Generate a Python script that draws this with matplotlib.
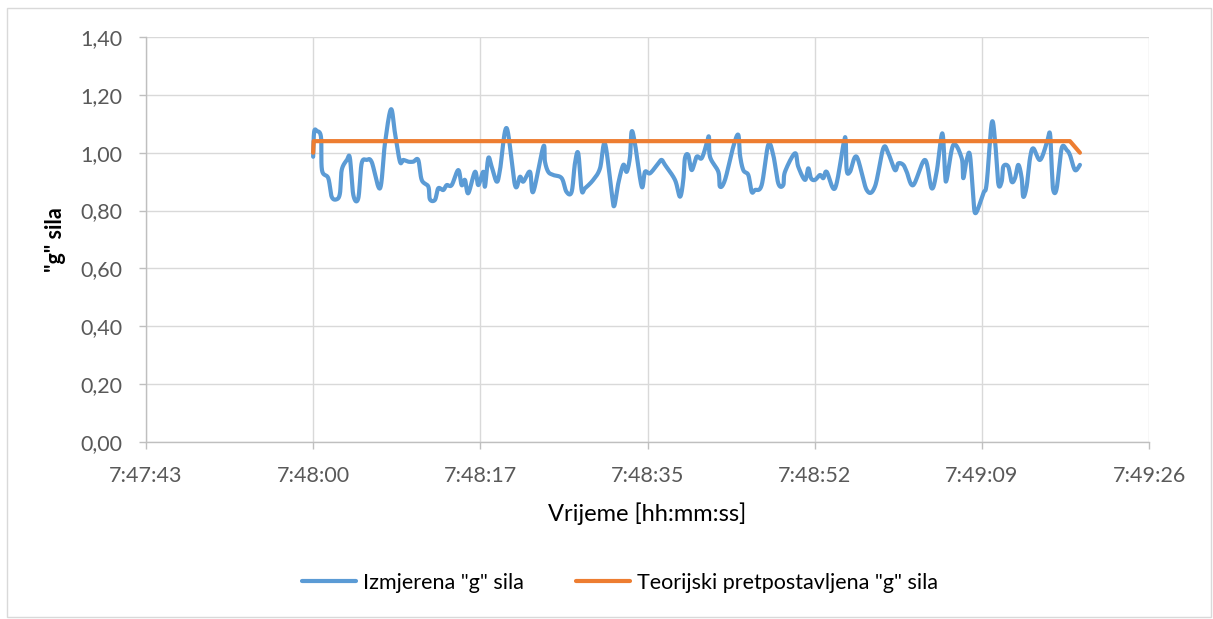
import numpy as np
import matplotlib
matplotlib.use("Agg")
import matplotlib.pyplot as plt
from matplotlib.ticker import FuncFormatter, FixedLocator
from matplotlib.patches import Rectangle

plt.rcParams['font.family'] = ['Lato', 'DejaVu Sans']

# Measurement start 7:48:00, stored as seconds after midnight
START = 7 * 3600 + 48 * 60

# Measured g-force: seconds after the start and value
measured_t = [0.00, 0.10, 0.39, 0.81, 0.91, 1.56, 1.91, 2.43, 2.77, 2.95,
              3.49, 3.80, 4.15, 4.66, 5.01, 5.53, 6.05, 6.91, 7.42, 8.04,
              8.46, 8.97, 9.31, 9.83, 10.35, 10.86, 11.22, 11.90, 12.07, 12.59,
              12.93, 13.45, 13.80, 14.32, 15.00, 15.35, 15.69, 16.03, 16.73, 17.07,
              17.58, 17.76, 18.10, 18.45, 18.97, 19.31, 20.00, 20.86, 21.38, 21.72,
              22.41, 22.75, 23.79, 23.96, 24.30, 24.82, 25.69, 26.18, 26.72, 27.06,
              27.40, 27.75, 28.10, 28.95, 29.65, 30.16, 30.86, 31.12, 31.54, 32.06,
              32.41, 32.75, 32.92, 33.26, 33.96, 34.30, 34.82, 35.67, 36.02, 36.37,
              37.40, 37.92, 38.26, 38.43, 38.77, 39.13, 39.64, 40.16, 40.68, 40.91,
              41.02, 41.88, 42.05, 42.57, 43.43, 43.94, 44.12, 44.46, 44.98, 45.33,
              45.67, 46.36, 47.04, 47.56, 48.08, 48.59, 48.77, 49.80, 50.14, 50.84,
              51.18, 51.46, 51.87, 52.39, 52.73, 53.08, 53.94, 54.80, 55.04, 55.15,
              55.49, 56.18, 57.22, 58.07, 58.93, 59.45, 60.14, 60.48, 61.00, 61.35,
              62.03, 63.24, 63.93, 64.45, 65.03, 65.31, 65.48, 66.17, 67.04, 67.20,
              67.55, 67.89, 68.23, 68.48, 69.27, 69.62, 70.14, 70.48, 70.82, 71.17,
              71.34, 71.85, 72.20, 72.55, 72.89, 73.24, 73.40, 73.75, 74.10, 74.44,
              75.13, 75.82, 76.16, 76.34, 76.50, 76.86, 77.37, 77.89, 78.23, 78.75,
              79.26]
measured_g = [0.986, 1.072, 1.075, 1.054, 0.940, 0.912, 0.848, 0.839, 0.860, 0.940,
              0.975, 0.981, 0.854, 0.842, 0.963, 0.975, 0.968, 0.877, 1.032, 1.150,
              1.067, 0.969, 0.975, 0.969, 0.969, 0.975, 0.906, 0.883, 0.839, 0.837,
              0.877, 0.871, 0.888, 0.888, 0.940, 0.888, 0.906, 0.860, 0.934, 0.888,
              0.934, 0.883, 0.981, 0.952, 0.900, 0.940, 1.085, 0.888, 0.917, 0.900,
              0.934, 0.865, 1.021, 0.969, 0.934, 0.923, 0.912, 0.865, 0.865, 0.963,
              0.998, 0.871, 0.877, 0.906, 0.946, 1.032, 0.860, 0.816, 0.894, 0.958,
              0.934, 0.986, 1.073, 1.032, 0.883, 0.934, 0.929, 0.963, 0.975, 0.958,
              0.906, 0.848, 0.906, 0.981, 0.992, 0.940, 0.986, 0.981, 1.032, 1.055,
              0.986, 0.934, 0.883, 0.906, 1.021, 1.062, 0.992, 0.940, 0.923, 0.865,
              0.871, 0.888, 1.027, 0.992, 0.894, 0.888, 0.934, 0.998, 0.952, 0.906,
              0.946, 0.912, 0.906, 0.923, 0.912, 0.934, 0.877, 1.027, 1.046, 0.940,
              0.934, 0.986, 0.871, 0.883, 1.015, 0.998, 0.940, 0.963, 0.958, 0.934,
              0.888, 0.975, 0.877, 0.934, 1.067, 0.934, 0.906, 1.027, 0.981, 0.912,
              0.975, 0.992, 0.848, 0.791, 0.860, 0.894, 1.102, 1.044, 0.894, 0.900,
              0.952, 0.952, 0.900, 0.912, 0.958, 0.912, 0.848, 0.883, 0.981, 1.015,
              0.975, 1.032, 1.067, 0.952, 0.871, 0.877, 1.015, 1.009, 0.992, 0.940,
              0.958]

# Theoretical g-force
theory_t = [0.00, 0.05, 78.23, 79.26]
theory_g = [1.00, 1.04, 1.04, 1.00]

y_ticks = [0.0, 0.2, 0.4, 0.6, 0.8, 1.0, 1.2, 1.4]
# Excel-style time axis: 0.3248 .. 0.3260 days in steps of 0.0002 days
x_tick_days = [0.3248, 0.3250, 0.3252, 0.3254, 0.3256, 0.3258, 0.3260]

BLUE = '#5B9BD5'
ORANGE = '#ED7D31'


def smooth(x, y, n=24):
    """Catmull-Rom style smoothing (cubic Bezier between consecutive points)."""
    x = np.asarray(x, float)
    y = np.asarray(y, float)
    P = np.column_stack([x, y])
    m = len(P)
    out = [P[0]]
    s = np.linspace(0, 1, n)[1:, None]
    for i in range(m - 1):
        p0 = P[i - 1] if i > 0 else P[i]
        p1 = P[i]
        p2 = P[i + 1]
        p3 = P[i + 2] if i + 2 < m else P[i + 1]
        c1 = p1 + (p2 - p0) / 6.0
        c2 = p2 - (p3 - p1) / 6.0
        seg = ((1 - s) ** 3) * p1 + 3 * ((1 - s) ** 2) * s * c1 \
            + 3 * (1 - s) * s ** 2 * c2 + s ** 3 * p2
        out.extend(seg)
    out = np.array(out)
    return out[:, 0], out[:, 1]


def hms(v, pos=None):
    s = int(round(v))
    return f"{s // 3600}:{(s % 3600) // 60:02d}:{s % 60:02d}"


fig = plt.figure(figsize=(12.13, 6.19), dpi=100)
W, H = 1213, 619
ax = fig.add_axes([146 / W, 1 - 442 / H, (1149 - 146) / W, (442 - 37) / H])

# chart border
fig.patches.append(Rectangle((7 / W, 1 - 617 / H), (1211 - 7) / W, (617 - 8) / H,
                             transform=fig.transFigure, fill=False,
                             edgecolor='#d9d9d9', lw=1.0, zorder=0))

mx = np.array(measured_t) + START
tx = np.array(theory_t) + START
sx, sy = smooth(mx, measured_g)
ax.plot(sx, sy, color=BLUE, lw=3.0, solid_capstyle='round', solid_joinstyle='round',
        label='Izmjerena "g" sila', zorder=3)
ax.plot(tx, theory_g, color=ORANGE, lw=3.0, solid_capstyle='round',
        label='Teorijski pretpostavljena "g" sila', zorder=4)

xt = [d * 86400 for d in x_tick_days]
ax.set_xlim(xt[0], xt[-1])
ax.set_ylim(0, 1.4)
ax.xaxis.set_major_locator(FixedLocator(xt))
ax.xaxis.set_major_formatter(FuncFormatter(hms))
ax.set_yticks(y_ticks)
ax.yaxis.set_major_formatter(FuncFormatter(lambda v, p: f"{v:.2f}".replace('.', ',')))

ax.grid(True, color='#d9d9d9', lw=1.0, zorder=0)
ax.set_axisbelow(True)
for side in ('top', 'right'):
    ax.spines[side].set_visible(False)
for side in ('left', 'bottom'):
    ax.spines[side].set_color('#bfbfbf')
    ax.spines[side].set_linewidth(1.0)
ax.tick_params(axis='both', colors='#bfbfbf', length=5, width=1.0,
               labelcolor='#595959', labelsize=15.5)
ax.tick_params(axis='y', pad=12)
ax.tick_params(axis='x', pad=12)

ax.set_xlabel('Vrijeme [hh:mm:ss]', fontsize=17, color='black', labelpad=12)
ax.set_ylabel('"g" sila', fontsize=15.5, fontweight='bold', color='black', labelpad=10)

fig.legend(loc='center', bbox_to_anchor=(620 / W, 1 - 583 / H), ncol=2, frameon=False,
           fontsize=15.5, handlelength=2.5, handletextpad=0.35, columnspacing=2.4)

fig.savefig('out.png', dpi=100)
